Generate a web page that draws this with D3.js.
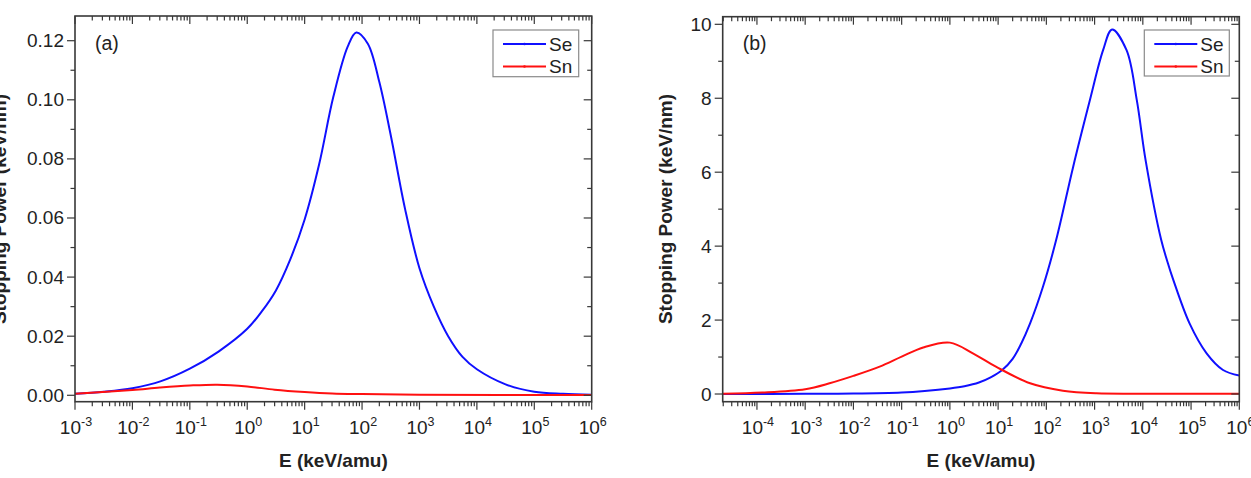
<!DOCTYPE html>
<html>
<head>
<meta charset="utf-8">
<script src="https://cdn.jsdelivr.net/npm/d3@7/dist/d3.min.js"></script>
<style>
  html, body { margin: 0; padding: 0; background: #fff; }
  svg { display: block; font-family: "Liberation Sans", Arial, sans-serif; }
</style>
</head>
<body>
<svg id="chart" width="1251" height="478"></svg>
<script>
// ---------- data ----------
const seriesNames = ["Se", "Sn"];
const panelLabels = ["(a)", "(b)"];

// Panel (a)
const energyA_Se = [1e-3, 3.16e-3, 1e-2, 3.16e-2, 1e-1, 3.16e-1, 1e0, 1.78, 3.16, 5.62, 10, 17.8, 31.6, 56.2, 79.4, 126, 200, 316, 562, 1000, 1778, 3162, 5623, 1e4, 3.16e4, 1e5, 3.16e5, 1e6];
const valueA_Se  = [0.0005, 0.0012, 0.0024, 0.0048, 0.0090, 0.0148, 0.0225, 0.0283, 0.0355, 0.0460, 0.0595, 0.0780, 0.1010, 0.1180, 0.1228, 0.1190, 0.1060, 0.0880, 0.0630, 0.0430, 0.0300, 0.0200, 0.0130, 0.0088, 0.0037, 0.0012, 0.0005, 0.0002];
const energyA_Sn = [1e-3, 1e-2, 3e-2, 1e-1, 3e-1, 1e0, 3e0, 1e1, 3e1, 1e2, 1e3, 1e6];
const valueA_Sn  = [0.0005, 0.0018, 0.0026, 0.0033, 0.0036, 0.0030, 0.0019, 0.0011, 0.0006, 0.0004, 0.0002, 0.0001];

// Panel (b)
const energyB_Se = [1.95e-5, 1e-3, 1e-2, 1e-1, 3e-1, 1e0, 2e0, 4e0, 7e0, 1.2e1, 2e1, 3e1, 4.6e1, 8.5e1, 1.6e2, 3.6e2, 8e2, 1.5e3, 2.3e3, 4.6e3, 7.5e3, 1.15e4, 2.4e4, 3.2e4, 4.3e4, 9.3e4, 2.1e5, 4.6e5, 1e6];
const valueB_Se  = [0.0, 0.005, 0.012, 0.04, 0.08, 0.15, 0.21, 0.31, 0.45, 0.64, 0.95, 1.36, 1.91, 2.90, 4.17, 6.15, 7.95, 9.30, 9.86, 9.30, 7.95, 6.30, 4.17, 3.60, 3.08, 1.91, 1.10, 0.65, 0.50];
const energyB_Sn = [1.95e-5, 1.3e-4, 1e-3, 3.2e-3, 1e-2, 3.5e-2, 1e-1, 2.8e-1, 1e0, 3e0, 9e0, 4.6e1, 2.2e2, 1.1e3, 1e4, 1e6];
const valueB_Sn  = [0.01, 0.04, 0.13, 0.29, 0.49, 0.74, 1.01, 1.26, 1.39, 1.10, 0.74, 0.29, 0.09, 0.02, 0.01, 0.01];

// tick values
const xTickExpA = [-3, -2, -1, 0, 1, 2, 3, 4, 5, 6];
const xTickExpB = [-4, -3, -2, -1, 0, 1, 2, 3, 4, 5, 6];
const yTicksA = [0.00, 0.02, 0.04, 0.06, 0.08, 0.10, 0.12];
const yTickLabelsA = ["0.00", "0.02", "0.04", "0.06", "0.08", "0.10", "0.12"];
const yTicksB = [0, 2, 4, 6, 8, 10];
const yTickLabelsB = ["0", "2", "4", "6", "8", "10"];

const colors = { Se: "#1010ff", Sn: "#ff1010" };

// ---------- drawing ----------
const svg = d3.select("#chart");
const axisColor = "#383838";

function drawPanel(cfg) {
  const g = svg.append("g");
  const x = d3.scaleLog().domain(cfg.xDomain).range([cfg.left, cfg.right]);
  const y = d3.scaleLinear().domain(cfg.yDomain).range([cfg.bottom, cfg.top]);

  const clipId = "clip" + cfg.id;
  svg.append("clipPath").attr("id", clipId)
    .append("rect").attr("x", cfg.left).attr("y", cfg.top)
    .attr("width", cfg.right - cfg.left).attr("height", cfg.bottom - cfg.top);

  // curves
  const line = d3.line().x(d => x(d[0])).y(d => y(d[1])).curve(d3.curveCatmullRom.alpha(0.5));
  cfg.series.forEach(s => {
    const pts = s.e.map((e, i) => [e, s.v[i]]);
    g.append("path").attr("d", line(pts))
      .attr("fill", "none").attr("stroke", colors[s.name])
      .attr("stroke-width", 2).attr("clip-path", `url(#${clipId})`);
  });

  // ticks
  const [lo, hi] = cfg.xDomain;
  const majors = [], minors = [];
  const e0 = Math.floor(Math.log10(lo)), e1 = Math.ceil(Math.log10(hi));
  for (let e = e0; e <= e1; e++) {
    for (let m = 1; m <= 9; m++) {
      const v = m * Math.pow(10, e);
      if (v < lo * 0.999 || v > hi * 1.001) continue;
      (m === 1 ? majors : minors).push(v);
    }
  }
  const tk = g.append("g").attr("stroke", axisColor).attr("stroke-width", 1.2);
  const MJ = 8, MN = 4.5;
  majors.forEach(v => {
    const px = x(v);
    tk.append("line").attr("x1", px).attr("x2", px).attr("y1", cfg.bottom).attr("y2", cfg.bottom + MJ);
    tk.append("line").attr("x1", px).attr("x2", px).attr("y1", cfg.top).attr("y2", cfg.top + MJ);
  });
  minors.forEach(v => {
    const px = x(v);
    tk.append("line").attr("x1", px).attr("x2", px).attr("y1", cfg.bottom).attr("y2", cfg.bottom + MN);
    tk.append("line").attr("x1", px).attr("x2", px).attr("y1", cfg.top).attr("y2", cfg.top + MN);
  });
  const yStep = cfg.yTicks[1] - cfg.yTicks[0];
  cfg.yTicks.forEach(v => {
    const py = y(v);
    tk.append("line").attr("x1", cfg.left - MJ).attr("x2", cfg.left).attr("y1", py).attr("y2", py);
    tk.append("line").attr("x1", cfg.right - MJ).attr("x2", cfg.right).attr("y1", py).attr("y2", py);
    const mv = v + yStep / 2;
    if (mv <= cfg.yDomain[1]) {
      const pm = y(mv);
      tk.append("line").attr("x1", cfg.left - MN).attr("x2", cfg.left).attr("y1", pm).attr("y2", pm);
      tk.append("line").attr("x1", cfg.right - MN).attr("x2", cfg.right).attr("y1", pm).attr("y2", pm);
    }
  });

  // frame
  g.append("rect").attr("x", cfg.left).attr("y", cfg.top)
    .attr("width", cfg.right - cfg.left).attr("height", cfg.bottom - cfg.top)
    .attr("fill", "none").attr("stroke", axisColor).attr("stroke-width", 1.6);

  // y tick labels
  cfg.yTicks.forEach((v, i) => {
    g.append("text").attr("x", cfg.left - 11).attr("y", y(v))
      .attr("text-anchor", "end").attr("dominant-baseline", "central")
      .attr("font-size", 19).attr("fill", "#222").text(cfg.yTickLabels[i]);
  });

  // x tick labels (10^n)
  cfg.xTickExp.forEach(n => {
    const t = g.append("text").attr("x", x(Math.pow(10, n)) + 1).attr("y", cfg.bottom + 32)
      .attr("text-anchor", "middle").attr("font-size", 19).attr("fill", "#222");
    t.append("tspan").text("10");
    t.append("tspan").attr("font-size", 12.5).attr("dy", -8).text(String(n));
  });

  // axis titles
  g.append("text").attr("x", (cfg.left + cfg.right) / 2).attr("y", 466.5)
    .attr("text-anchor", "middle").attr("font-size", 19).attr("font-weight", "bold")
    .attr("fill", "#222").text("E (keV/amu)");
  g.append("text").attr("transform", `translate(${cfg.yTitleX},209) rotate(-90)`)
    .attr("text-anchor", "middle").attr("font-size", 19).attr("font-weight", "bold")
    .attr("fill", "#222").text("Stopping Power (keV/nm)");

  // panel label
  g.append("text").attr("x", cfg.left + 20).attr("y", 50)
    .attr("font-size", 19.5).attr("fill", "#222").text(cfg.label);

  // legend
  const L = cfg.legend;
  g.append("rect").attr("x", L.x).attr("y", L.y).attr("width", L.w).attr("height", L.h)
    .attr("fill", "#fff").attr("stroke", "#8a8a8a").attr("stroke-width", 1.2);
  seriesNames.forEach((name, i) => {
    const ly = L.y + 14 + i * 22.5;
    g.append("line").attr("x1", L.x + 10).attr("x2", L.x + 53).attr("y1", ly).attr("y2", ly)
      .attr("stroke", colors[name]).attr("stroke-width", 2);
    g.append("circle").attr("cx", L.x + 31.5).attr("cy", ly).attr("r", 1.3).attr("fill", colors[name]);
    g.append("text").attr("x", L.x + 56).attr("y", ly).attr("dominant-baseline", "central")
      .attr("font-size", 19).attr("fill", "#222").text(name);
  });
}

drawPanel({
  id: "A", label: panelLabels[0],
  left: 75, right: 591.7, top: 16, bottom: 401.7,
  xDomain: [1e-3, 1e6], yDomain: [-0.00217, 0.12836],
  yTicks: yTicksA, yTickLabels: yTickLabelsA, xTickExp: xTickExpA,
  yTitleX: 6,
  legend: { x: 493, y: 30, w: 85.7, h: 46.7 },
  series: [
    { name: "Se", e: energyA_Se, v: valueA_Se },
    { name: "Sn", e: energyA_Sn, v: valueA_Sn }
  ]
});

drawPanel({
  id: "B", label: panelLabels[1],
  left: 722.7, right: 1239.3, top: 16.7, bottom: 401.7,
  xDomain: [1.95e-5, 1e6], yDomain: [-0.208, 10.206],
  yTicks: yTicksB, yTickLabels: yTickLabelsB, xTickExp: xTickExpB,
  yTitleX: 672,
  legend: { x: 1144.3, y: 30, w: 85, h: 46 },
  series: [
    { name: "Se", e: energyB_Se, v: valueB_Se },
    { name: "Sn", e: energyB_Sn, v: valueB_Sn }
  ]
});
</script>
</body>
</html>
